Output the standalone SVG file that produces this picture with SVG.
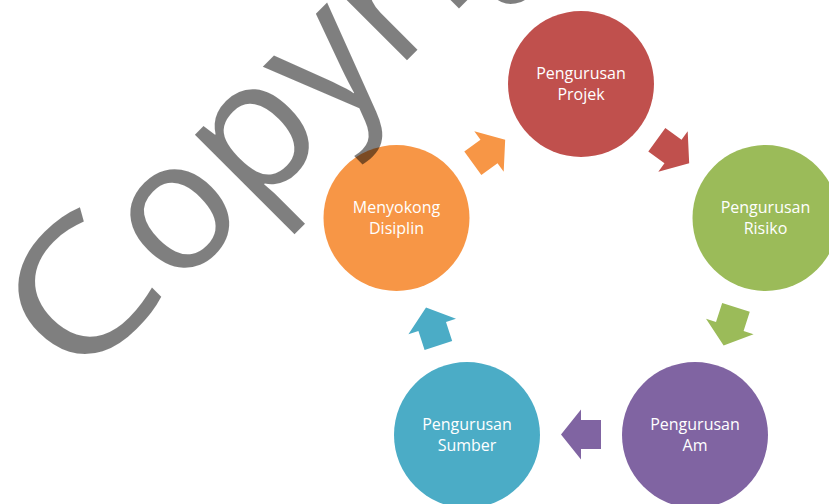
<svg xmlns="http://www.w3.org/2000/svg" width="829" height="504" viewBox="0 0 829 504">
<defs>
<style>
.lbl{font-family:"Open Sans","Liberation Sans",sans-serif;font-size:16px;fill:#ffffff;text-anchor:middle}
.wm{font-family:"Open Sans","Liberation Sans",sans-serif;font-size:182px;fill:#000000;fill-opacity:0.5}
</style>
<path id="arr" d="M-20,-14.5 L0,-14.5 L0,-25 L20,0 L0,25 L0,14.5 L-20,14.5 Z"/>
</defs>
<rect width="829" height="504" fill="#ffffff"/>
<g id="connectors">
<use href="#arr" transform="translate(489,151.4) rotate(-36)" fill="#F79646"/>
<use href="#arr" transform="translate(673,151.4) rotate(36)" fill="#C0504D"/>
<use href="#arr" transform="translate(729.8,326.4) rotate(108)" fill="#9BBB59"/>
<use href="#arr" transform="translate(581,434.5) rotate(180)" fill="#8064A2"/>
<use href="#arr" transform="translate(432.2,326.4) rotate(252)" fill="#4BACC6"/>
</g>
<g id="node-projek">
<circle cx="581" cy="84" r="73" fill="#C0504D"/>
<text class="lbl" x="581" y="79">Pengurusan</text>
<text class="lbl" x="581" y="100">Projek</text>
</g>
<g id="node-risiko">
<circle cx="765.5" cy="218" r="73" fill="#9BBB59"/>
<text class="lbl" x="765.5" y="213">Pengurusan</text>
<text class="lbl" x="765.5" y="234">Risiko</text>
</g>
<g id="node-am">
<circle cx="695" cy="435" r="73" fill="#8064A2"/>
<text class="lbl" x="695" y="430">Pengurusan</text>
<text class="lbl" x="695" y="451">Am</text>
</g>
<g id="node-sumber">
<circle cx="467" cy="435" r="73" fill="#4BACC6"/>
<text class="lbl" x="467" y="430">Pengurusan</text>
<text class="lbl" x="467" y="451">Sumber</text>
</g>
<g id="node-menyokong">
<circle cx="396.5" cy="218" r="73" fill="#F79646"/>
<text class="lbl" x="396.5" y="213">Menyokong</text>
<text class="lbl" x="396.5" y="234">Disiplin</text>
</g>
<g id="watermark" transform="translate(270.4,196.9) rotate(-45)">
<text class="wm" x="0" y="0" transform="translate(-273,-3) scale(1.2,1)">C</text>
<text class="wm" y="0"><tspan x="-134.3">opyr</tspan><tspan x="251">ight</tspan></text>
</g>
</svg>
